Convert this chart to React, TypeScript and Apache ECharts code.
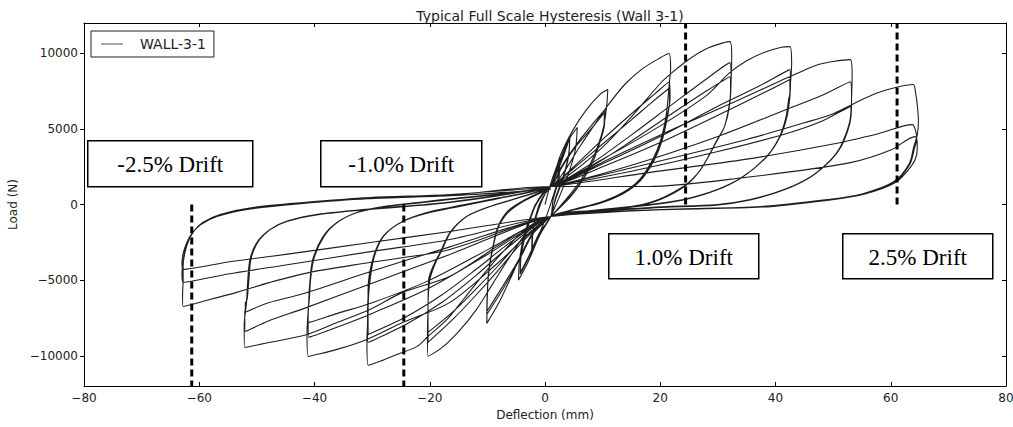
import React, { useEffect, useRef } from "react";
import * as echarts from "echarts";

// ---- tick values ----
const xTicks = [-80, -60, -40, -20, 0, 20, 40, 60, 80];
const yTicks = [-10000, -5000, 0, 5000, 10000];

// ---- hysteresis cycles [deflection mm, load N] ----
const start = [[0, 0]];
const small1 = [[1, 1400], [2.4, 2900], [2.2, 1600], [1.2, 300], [0.5, -500], [-0.5, -1500], [-2.2, -2900], [-2, -1500], [-1, -200], [0, 700], [1, 1190]];
const small2 = [[2, 2200], [2.6, 3100], [2.4, 1700], [1.4, 300], [1, -790], [-0.5, -1700], [-2.3, -3000], [-2.1, -1600], [-1.1, -100], [0, 700], [1, 1190]];
const c5a = [[2.5, 2800], [4, 4200], [5.6, 5090], [5.3, 3700], [4.3, 2300], [2.8, 800], [1, -790], [-1, -2100], [-2.8, -3700], [-4.6, -5000], [-4.4, -3600], [-3.6, -2000], [-2, -300], [-0.5, 700], [1, 1190]];
const c5b = [[2.5, 2600], [4.3, 4490], [4.1, 3300], [3.2, 1900], [1.8, 400], [1, -790], [-1, -2000], [-2.8, -3500], [-4.3, -4600], [-4.1, -3300], [-3.2, -1800], [-1.8, -200], [-0.3, 700], [1, 1190]];
const c5c = [[2.5, 2500], [4.3, 4400], [4.1, 3200], [3.2, 1800], [1.8, 300], [1, -790], [-1, -1900], [-2.8, -3400], [-4.3, -4500], [-4.1, -3200], [-3.2, -1700], [-1.8, -100], [-0.3, 700], [1, 1190]];
const c10a = [[2.6, 3170], [4.9, 4950], [7.2, 6270], [9.5, 7270], [10.9, 7600], [10.7, 6500], [10.2, 5200], [9.3, 4000], [8, 2800], [6.2, 1600], [4, 500], [1, -790], [-2, -1800], [-4, -3200], [-6, -4900], [-8, -6500], [-10.1, -7860], [-10, -6000], [-9.8, -4500], [-9.3, -3300], [-8.3, -1700], [-6.6, -600], [-3.8, 200], [1, 1190]];
const c10b = [[3, 2600], [5.5, 4000], [8, 5200], [10.4, 6270], [10.3, 5200], [9.6, 4200], [8.5, 3000], [6.8, 1800], [4.5, 600], [1, -790], [-2, -1900], [-4.5, -3700], [-7, -5400], [-10.1, -7270], [-10, -5800], [-9.7, -4300], [-9.2, -3200], [-8.2, -1600], [-6.5, -500], [-3.8, 200], [1, 1190]];
const c10c = [[3, 2500], [5.5, 3900], [8, 5000], [10.3, 6080], [10.2, 5100], [9.5, 4100], [8.4, 2900], [6.7, 1700], [4.4, 500], [1, -790], [-2, -1800], [-4.5, -3600], [-7, -5200], [-10.1, -7070], [-10, -5700], [-9.7, -4200], [-9.2, -3100], [-8.2, -1500], [-6.5, -450], [-3.8, 250], [1, 1190]];
const c20a = [[3, 2000], [6, 3800], [9, 5500], [11, 6600], [14, 8000], [17, 9000], [20, 9700], [21.5, 9980], [21.8, 9000], [21.6, 8130], [21, 5810], [20.1, 4290], [18.7, 2970], [16.4, 1650], [13.5, 790], [9.5, 130], [4.9, -330], [1, -790], [-3, -1800], [-6, -3400], [-9, -5200], [-12, -7000], [-15, -8400], [-18, -9500], [-20.3, -10040], [-20.4, -8500], [-20.3, -7000], [-20.2, -5000], [-19.2, -3900], [-18.2, -3170], [-16.5, -1850], [-13.6, -790], [-9.5, -130], [-3.8, 530], [1, 1190]];
const c20b = [[5, 2500], [10, 4300], [15, 6000], [19, 7300], [21.6, 8130], [21.7, 7000], [21.1, 5750], [20.2, 4250], [18.8, 2940], [16.5, 1620], [13.6, 770], [9.6, 110], [5, -340], [1, -790], [-4, -2500], [-8, -4300], [-12, -6000], [-16, -7600], [-20.3, -9110], [-20.3, -7200], [-20.1, -5000], [-19.1, -3870], [-18.1, -3130], [-16.4, -1820], [-13.5, -770], [-9.4, -110], [-3.7, 550], [1, 1190]];
const c20c = [[5, 2400], [10, 4000], [15, 5600], [19, 6900], [21.6, 7700], [21.6, 6800], [21.2, 5700], [20.3, 4200], [18.9, 2900], [16.6, 1600], [13.7, 750], [9.7, 100], [5.1, -350], [1, -790], [-4, -2300], [-8, -4000], [-12, -5600], [-16, -7100], [-20.3, -8450], [-20.3, -7000], [-20, -5000], [-19, -3850], [-18, -3100], [-16.3, -1800], [-13.4, -750], [-9.3, -100], [-3.6, 570], [1, 1190]];
const c30a = [[5, 2200], [10, 3800], [15, 5800], [20, 8000], [22, 8700], [25, 9600], [28, 10300], [31, 10700], [32.1, 10770], [32.4, 9800], [32.3, 8260], [32, 6500], [31.2, 5200], [29.9, 4290], [27, 2310], [24, 1190], [18.2, 130], [10, -400], [1, -790], [-3, -1500], [-6, -2600], [-10, -4300], [-14, -6200], [-17, -7600], [-20.3, -8720], [-22.2, -9380], [-25.7, -9910], [-28.5, -10350], [-30.7, -10630], [-30.9, -9000], [-30.7, -7000], [-30.7, -5610], [-29.9, -3630], [-28.1, -2110], [-24.7, -1120], [-20, -530], [-16.5, -250], [-8, 400], [1, 1190]];
const c30b = [[8, 2700], [15, 4600], [22, 6600], [28, 8300], [32.1, 9380], [32.3, 8200], [32, 6500], [31.2, 5200], [29.9, 4250], [27, 2300], [24, 1150], [18.2, 100], [10, -420], [1, -790], [-6, -2700], [-12, -4700], [-18, -6500], [-24, -7900], [-30.7, -9110], [-30.8, -7400], [-30.6, -5600], [-29.8, -3600], [-28, -2100], [-24.6, -1100], [-20, -500], [-16.5, -230], [-8, 420], [1, 1190]];
const c30c = [[8, 2500], [15, 4200], [22, 6000], [28, 7500], [32.1, 8450], [32.2, 7500], [31.9, 6400], [31.1, 5100], [29.8, 4200], [26.9, 2250], [23.9, 1100], [18.2, 80], [10, -440], [1, -790], [-6, -2500], [-12, -4300], [-18, -6000], [-24, -7400], [-30.7, -8590], [-30.7, -7200], [-30.5, -5500], [-29.7, -3550], [-27.9, -2050], [-24.5, -1080], [-20, -480], [-16.5, -200], [-8, 440], [1, 1190]];
const c40a = [[10, 3000], [20, 5200], [28, 7200], [32, 8700], [35, 9500], [38, 10050], [41, 10400], [42.5, 10440], [42.8, 9300], [42.6, 8000], [42.5, 7130], [42, 5810], [40.8, 4490], [38.5, 3170], [34.4, 1850], [29.9, 990], [24, 330], [18.2, 0], [8, -400], [1, -790], [-8, -3800], [-16.5, -6470], [-24.7, -7800], [-30.9, -8920], [-36.1, -9580], [-41.1, -10040], [-41.3, -8500], [-41, -6500], [-40.8, -5150], [-40.3, -3630], [-38.5, -2110], [-36.1, -1190], [-32.6, -530], [-27.4, -130], [-16.5, 330], [1, 1190]];
const c40b = [[10, 2700], [20, 4500], [30, 6500], [37, 7800], [42.5, 8920], [42.6, 7800], [42.4, 7100], [41.9, 5800], [40.7, 4450], [38.4, 3150], [34.3, 1820], [29.8, 960], [23.9, 300], [18.2, -20], [8, -420], [1, -790], [-10, -3300], [-20, -5500], [-30, -7200], [-36, -8100], [-41, -8780], [-41.1, -7500], [-41, -6400], [-40.8, -5100], [-40.2, -3600], [-38.4, -2100], [-36, -1170], [-32.5, -510], [-27.3, -110], [-16.5, 350], [1, 1190]];
const c40c = [[10, 2500], [20, 4100], [30, 5900], [37, 7200], [42.5, 8260], [42.5, 7300], [42.3, 7000], [41.8, 5750], [40.6, 4400], [38.3, 3100], [34.2, 1800], [29.7, 940], [23.8, 280], [18.2, -40], [8, -440], [1, -790], [-10, -3000], [-20, -5000], [-30, -6500], [-36, -7200], [-41, -7800], [-41.1, -7000], [-40.9, -6300], [-40.7, -5050], [-40.1, -3570], [-38.3, -2080], [-35.9, -1150], [-32.4, -490], [-27.2, -90], [-16.5, 370], [1, 1190]];
const c50a = [[10, 2800], [20, 4600], [30, 6300], [37, 7500], [41, 8200], [44.8, 8850], [47.2, 9220], [50, 9450], [53, 9580], [53.3, 8500], [53.2, 7000], [53.1, 5810], [52.6, 4950], [51.4, 3830], [49.7, 2970], [46.2, 1850], [41.5, 990], [35.6, 330], [29.9, 0], [18.2, -200], [1, -790], [-8, -2700], [-16.5, -4750], [-24.7, -5810], [-30.4, -6940], [-36.1, -7800], [-41.3, -8590], [-47.7, -9110], [-52.1, -9450], [-52.2, -8000], [-51.8, -6500], [-51.6, -5150], [-51.2, -3630], [-50, -2510], [-47.7, -1650], [-44.8, -1120], [-39.1, -660], [-30.4, -330], [-16.5, 130], [1, 1190]];
const c50b = [[15, 2600], [30, 4500], [42, 6300], [48, 7200], [53, 8120], [53.2, 7000], [53, 5750], [52.5, 4900], [51.3, 3800], [49.6, 2940], [46.1, 1820], [41.4, 960], [35.5, 300], [29.8, -20], [18.2, -220], [1, -790], [-16.5, -3300], [-30, -5200], [-42, -6900], [-48, -7700], [-52, -8390], [-52.1, -7200], [-51.8, -6400], [-51.5, -5100], [-51.1, -3600], [-49.9, -2490], [-47.6, -1630], [-44.7, -1100], [-39, -640], [-30.3, -310], [-16.5, 150], [1, 1190]];
const c50c = [[15, 2200], [30, 3500], [42, 4700], [48, 5500], [53, 6470], [53.1, 5800], [52.9, 5500], [52.4, 4850], [51.2, 3770], [49.5, 2910], [46, 1800], [41.3, 940], [35.4, 280], [29.7, -40], [18.2, -240], [1, -790], [-16.5, -2800], [-30, -4400], [-42, -5900], [-48, -6500], [-52, -7130], [-52, -6500], [-51.7, -6300], [-51.4, -5050], [-51, -3570], [-49.8, -2470], [-47.5, -1610], [-44.6, -1080], [-38.9, -620], [-30.2, -290], [-16.5, 170], [1, 1190]];
const c60a = [[18, 2700], [35, 4300], [45, 5400], [50, 6000], [54, 6750], [57.5, 7350], [61, 7750], [63.9, 7930], [64.3, 7400], [64.6, 6600], [64.8, 5500], [64.6, 4600], [64, 3830], [63.2, 2700], [60.5, 1500], [55, 700], [49, 330], [37.5, -130], [20, -330], [1, -790], [-16.5, -2970], [-30.4, -3830], [-40.8, -4490], [-47.7, -5150], [-53.5, -5810], [-59.4, -6410], [-62.8, -6740], [-62.9, -6000], [-62.8, -5000], [-62.8, -4100], [-62.2, -2770], [-61.1, -1850], [-59.4, -1190], [-56.4, -660], [-50.7, -200], [-42, 130], [-30.4, 460], [-16.5, 660], [1, 1190]];
const c60b = [[18, 2110], [35, 3000], [50, 4000], [58, 4700], [63.7, 5280], [64.3, 4900], [64.5, 4300], [64.1, 3700], [63.3, 2650], [60.6, 1480], [55.1, 680], [49.1, 310], [37.6, -150], [20, -340], [1, -790], [-16.5, -2310], [-30, -3100], [-45, -4000], [-55, -4600], [-62.8, -5150], [-63, -4600], [-62.9, -4100], [-62.4, -2900], [-61.3, -1950], [-59.6, -1270], [-56.6, -720], [-50.9, -250], [-42.2, 90], [-30.6, 420], [-16.5, 620], [1, 1190]];
const c60c = [[18, 1190], [35, 1800], [53, 2770], [60, 3600], [64.2, 4490], [64.6, 4000], [64.5, 3300], [63.6, 2550], [60.8, 1450], [55.2, 660], [49.2, 290], [37.7, -170], [20, -350], [1, -790], [-16.5, -1780], [-30, -2500], [-45, -3300], [-55, -3800], [-62.8, -4290], [-63, -3900], [-62.7, -3100], [-61.6, -2100], [-59.8, -1350], [-56.8, -780], [-51.1, -300], [-42.4, 50], [-30.8, 380], [-16.5, 580], [1, 1000]];

// ---- drift marker lines (deflection, load from, load to) ----
const driftX = [-61.3, -24.5, 24.4, 61.1];
const driftFrom = [0, 0, 0, 0];
const driftTo = [-12000, -12000, 12000, 12000];

// ---- annotation labels ----
const driftLabels = ["-2.5% Drift", "-1.0% Drift", "1.0% Drift", "2.5% Drift"];

const allCycles = [start, small1, small2, c5a, c5b, c5c, c10a, c10b, c10c, c20a, c20b, c20c, c30a, c30b, c30c, c40a, c40b, c40c, c50a, c50b, c50c, c60a, c60b, c60c];

const minus = (v: number) => String(v).replace("-", "\u2212");

export default function App() {
  const ref = useRef<HTMLDivElement>(null);
  useEffect(() => {
    if (!ref.current) return;
    const chart = echarts.init(ref.current, null, { renderer: "svg" });
    const hysteresis: number[][] = [];
    allCycles.forEach((c) => c.forEach((p) => hysteresis.push(p)));

    const dashSeries = driftX.map((x, i) => ({
      name: "drift" + i,
      type: "line",
      data: [[x, driftFrom[i]], [x, driftTo[i]]],
      symbol: "none",
      silent: true,
      z: 3,
      lineStyle: { color: "#000", width: 3, type: [7, 4] },
    }));

    const boxes = [
      { left: 87, top: 140, w: 165, h: 46 },
      { left: 320, top: 140, w: 161, h: 46 },
      { left: 608, top: 233, w: 150, h: 45 },
      { left: 842, top: 233, w: 150, h: 45 },
    ];
    const graphic = boxes.map((b, i) => ({
      type: "group",
      left: b.left,
      top: b.top,
      z: 100,
      children: [
        { type: "rect", shape: { x: 0, y: 0, width: b.w, height: b.h }, style: { fill: "#fff", stroke: "#000", lineWidth: 1.5 } },
        {
          type: "text",
          x: b.w / 2,
          y: b.h / 2 + 1,
          style: {
            text: driftLabels[i],
            font: '23px "Liberation Serif"',
            fill: "#000",
            align: "center",
            verticalAlign: "middle",
            textAlign: "center",
            textVerticalAlign: "middle",
          },
        },
      ],
    }));

    const axisFont = { fontFamily: "DejaVu Sans", fontSize: 12, color: "#222" };

    chart.setOption({
      animation: false,
      backgroundColor: "#fff",
      title: {
        text: "Typical Full Scale Hysteresis (Wall 3-1)",
        left: 545,
        top: 4,
        textAlign: "center",
        textStyle: { fontFamily: "DejaVu Sans", fontSize: 14, fontWeight: "normal", color: "#222" },
      },
      legend: {
        data: [{ name: "WALL-3-1", icon: "rect" }],
        left: 91,
        top: 31,
        orient: "vertical",
        padding: [6, 8, 6, 10],
        itemWidth: 22,
        itemHeight: 1,
        borderColor: "#222",
        borderWidth: 1,
        borderRadius: 0,
        itemStyle: { color: "#555" },
        textStyle: { fontFamily: "DejaVu Sans", fontSize: 14, color: "#222", padding: [0, 0, 0, 12], lineHeight: 14 },
      },
      grid: { left: 84, right: 7, top: 23, bottom: 41, containLabel: false, outerBoundsMode: "none" },
      xAxis: [
        {
          type: "value",
          min: -80,
          max: 80,
          interval: 20,
          name: "Deflection (mm)",
          nameLocation: "middle",
          nameGap: 23,
          nameTextStyle: axisFont,
          axisLine: { onZero: false, lineStyle: { color: "#000", width: 1 } },
          axisTick: { inside: true, length: 4, lineStyle: { color: "#000" } },
          axisLabel: { ...axisFont, margin: 6, formatter: minus },
          splitLine: { show: false },
        },
        {
          type: "value",
          position: "top",
          min: -80,
          max: 80,
          interval: 20,
          axisLine: { onZero: false, lineStyle: { color: "#000", width: 1 } },
          axisTick: { inside: true, length: 4, lineStyle: { color: "#000" } },
          axisLabel: { show: false },
          splitLine: { show: false },
        },
      ],
      yAxis: [
        {
          type: "value",
          min: -12000,
          max: 12000,
          name: "Load (N)",
          nameLocation: "middle",
          nameGap: 63,
          nameRotate: 90,
          nameTextStyle: axisFont,
          axisLine: { show: true, onZero: false, lineStyle: { color: "#000", width: 1 } },
          axisTick: { show: true, inside: false, length: 4, customValues: yTicks, lineStyle: { color: "#000" } },
          axisLabel: { ...axisFont, margin: 6, customValues: yTicks, formatter: minus },
          splitLine: { show: false },
        },
        {
          type: "value",
          position: "right",
          min: -12000,
          max: 12000,
          axisLine: { show: true, onZero: false, lineStyle: { color: "#000", width: 1 } },
          axisTick: { show: true, inside: true, length: 4, customValues: yTicks, lineStyle: { color: "#000" } },
          axisLabel: { show: false },
          splitLine: { show: false },
        },
      ],
      series: [
        {
          name: "WALL-3-1",
          type: "line",
          data: hysteresis,
          symbol: "none",
          showSymbol: false,
          smooth: 0.3,
          z: 2,
          lineStyle: { color: "#1e1e1e", width: 1.1 },
          itemStyle: { color: "#1e1e1e" },
        },
        ...dashSeries,
      ],
      graphic,
    });
    return () => chart.dispose();
  }, []);
  return <div ref={ref} style={{ position: "absolute", left: 0, top: 0, width: 1013, height: 427 }} />;
}
